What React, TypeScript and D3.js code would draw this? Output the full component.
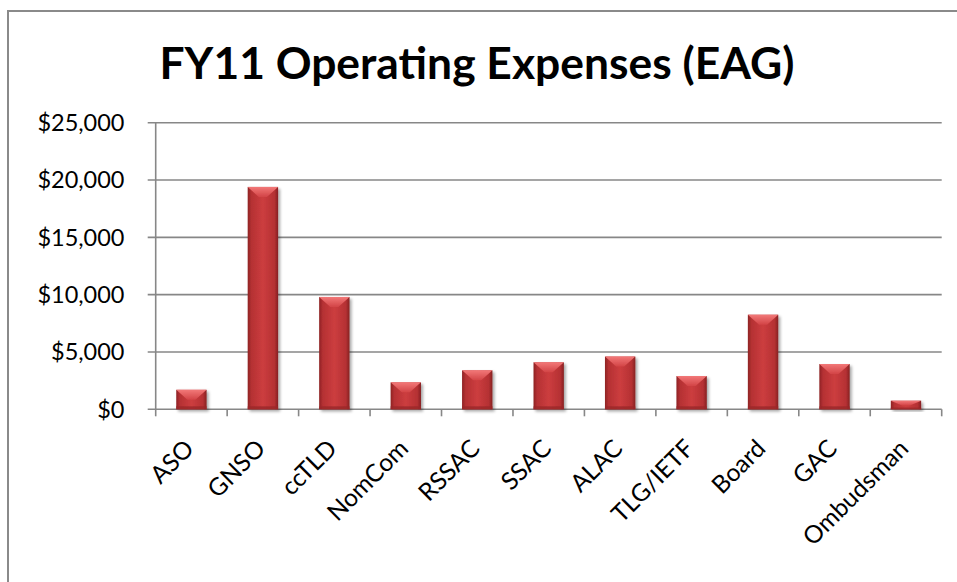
import React from "react";
import * as d3 from "d3";

const categories = ["ASO", "GNSO", "ccTLD", "NomCom", "RSSAC", "SSAC", "ALAC", "TLG/IETF", "Board", "GAC", "Ombudsman"];
const values = [1700, 19400, 9800, 2350, 3400, 4100, 4600, 2900, 8250, 3950, 750];
const yTicks = [0, 5000, 10000, 15000, 20000, 25000];
const title = "FY11 Operating Expenses (EAG)";

const W = 957;
const H = 582;
const left = 155.7;
const right = 941.7;
const top = 122.7;
const bottom = 409.3;

export default function App() {
  const x = d3.scaleBand<string>().domain(categories).range([left, right]).paddingInner(0.575).paddingOuter(0.2875);
  const y = d3.scaleLinear().domain([0, 25000]).range([bottom, top]);
  const fmt = (v: number) => "$" + d3.format(",")(v);
  const step = x.step();
  const font = "Lato, 'Open Sans', sans-serif";
  const grid = "#878787";

  return (
    <svg width={W} height={H} style={{ position: "absolute", left: 0, top: 0, background: "#fff" }}>
      <defs>
        <linearGradient id="barH" x1="0" x2="1" y1="0" y2="0">
          <stop offset="0" stopColor="#8e2324" />
          <stop offset="0.12" stopColor="#b53133" />
          <stop offset="0.5" stopColor="#cc3d3f" />
          <stop offset="0.88" stopColor="#b53133" />
          <stop offset="1" stopColor="#862122" />
        </linearGradient>
        <linearGradient id="barTop" x1="0" x2="0" y1="0" y2="1">
          <stop offset="0" stopColor="#f27878" />
          <stop offset="1" stopColor="#d24446" />
        </linearGradient>
        <filter id="shadow" x="-30%" y="-10%" width="160%" height="130%">
          <feGaussianBlur in="SourceAlpha" stdDeviation="1.6" />
          <feOffset dx="1.5" dy="1.5" result="b" />
          <feComponentTransfer>
            <feFuncA type="linear" slope="0.35" />
          </feComponentTransfer>
          <feMerge>
            <feMergeNode />
            <feMergeNode in="SourceGraphic" />
          </feMerge>
        </filter>
      </defs>

      {/* chart border */}
      <path d={`M8,${H} L8,11 L${W},11`} fill="none" stroke="#8a8a8a" strokeWidth={2} />

      <text
        x={477}
        y={79}
        textAnchor="middle"
        fontFamily={font}
        fontWeight={700}
        fontSize={43}
        textLength={635}
        lengthAdjust="spacingAndGlyphs"
        fill="#000"
      >
        {title}
      </text>

      {/* gridlines & y ticks */}
      {yTicks.map((t) => (
        <g key={t}>
          <line x1={left - 8} x2={right} y1={y(t)} y2={y(t)} stroke={grid} strokeWidth={1.6} />
          <text x={124.5} y={y(t)} dy="0.36em" textAnchor="end" fontFamily={font} fontSize={23.5} fill="#000">
            {fmt(t)}
          </text>
        </g>
      ))}
      <line x1={left} x2={left} y1={top} y2={bottom} stroke={grid} strokeWidth={1.6} />

      {/* x ticks */}
      {d3.range(categories.length + 1).map((i) => {
        const tx = left + i * step;
        return <line key={i} x1={tx} x2={tx} y1={bottom} y2={bottom + 7} stroke={grid} strokeWidth={1.6} />;
      })}

      {/* bars */}
      {categories.map((c, i) => {
        const x0 = x(c)!;
        const bw = x.bandwidth();
        const x1 = x0 + bw;
        const y0 = y(values[i]);
        const y1 = y(0);
        const h = y1 - y0;
        const b = Math.min(10, h * 0.55);
        const s = Math.min(3, h * 0.2);
        return (
          <g key={c} filter="url(#shadow)">
            <rect x={x0} y={y0} width={bw} height={h} fill="url(#barH)" />
            <path d={`M${x0},${y0} L${x1},${y0} L${x0 + bw / 2 + 4},${y0 + b} L${x0 + bw / 2 - 4},${y0 + b} Z`} fill="url(#barTop)" />
            <rect x={x0} y={y1 - s} width={bw} height={s} fill="#9a2829" opacity={0.8} />
          </g>
        );
      })}

      {/* x labels */}
      {categories.map((c) => {
        const cx = x(c)! + x.bandwidth() / 2;
        return (
          <text
            key={c}
            transform={`translate(${cx + 4},${450}) rotate(-45)`}
            textAnchor="end"
            fontFamily={font}
            fontSize={24.5}
            fill="#000"
          >
            {c}
          </text>
        );
      })}
    </svg>
  );
}
